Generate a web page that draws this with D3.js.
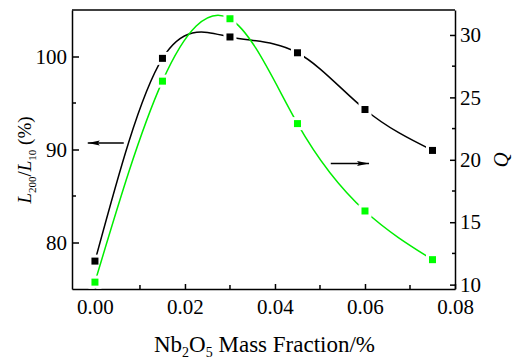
<!DOCTYPE html>
<html>
<head>
<meta charset="utf-8">
<script src="https://cdn.jsdelivr.net/npm/d3@7"></script>
<style>
  body { margin: 0; background: #fff; }
  svg text { font-family: "Liberation Serif", "DejaVu Serif", serif; fill: #000; }
  .axis path, .axis line { stroke: #000; stroke-width: 1.5; }
</style>
</head>
<body>
<svg id="chart" width="520" height="360"></svg>
<script>
// Nb2O5 mass fraction (x) and the two measured series
const massFraction = [0, 0.015, 0.03, 0.045, 0.06, 0.075];
const ratioL = [78.0, 99.8, 102.1, 100.4, 94.3, 89.9];   // L200/L10 (%), left axis
const qValues = [10.2, 26.3, 31.3, 22.9, 15.9, 12.0];    // Q, right axis

const xTicks = [0, 0.02, 0.04, 0.06, 0.08];
const xMinor = [0.01, 0.03, 0.05, 0.07];
const leftTicks = [80, 90, 100];
const leftMinor = [85, 95];
const rightTicks = [10, 15, 20, 25, 30];
const rightMinor = [12.5, 17.5, 22.5, 27.5];

// arrow annotations in data space: [x1, x2, y]
const arrowLeft = [0.0064, -0.0016, 90.7];
const arrowRight = [0.0524, 0.0609, 19.7];

const margin = {top: 10, right: 65, bottom: 71, left: 72};
const width = 520, height = 360;
const serif = '"Liberation Serif", "DejaVu Serif", serif';

const svg = d3.select('#chart');

const x = d3.scaleLinear().domain([-0.0051, 0.08]).range([margin.left, width - margin.right]);
const yL = d3.scaleLinear().domain([75, 105]).range([height - margin.bottom, margin.top]);
const yR = d3.scaleLinear().domain([9.65, 32]).range([height - margin.bottom, margin.top]);

const bottom = height - margin.bottom;
const right = width - margin.right;

// frame (top edge)
svg.append('line')
  .attr('x1', margin.left).attr('x2', right)
  .attr('y1', margin.top).attr('y2', margin.top)
  .attr('stroke', '#000').attr('stroke-width', 1.5);

// axes, ticks pointing inward
const gx = svg.append('g').attr('class', 'axis')
  .attr('transform', 'translate(0,' + bottom + ')')
  .call(d3.axisBottom(x).tickValues(xTicks).tickFormat(d3.format('.2f'))
    .tickSizeInner(-5).tickSizeOuter(0).tickPadding(10));
gx.append('g').selectAll('line').data(xMinor).join('line')
  .attr('x1', d => x(d)).attr('x2', d => x(d)).attr('y1', 0).attr('y2', -4);

const gl = svg.append('g').attr('class', 'axis')
  .attr('transform', 'translate(' + margin.left + ',0)')
  .call(d3.axisLeft(yL).tickValues(leftTicks).tickSizeInner(-7).tickSizeOuter(0).tickPadding(5));
gl.append('g').selectAll('line').data(leftMinor).join('line')
  .attr('y1', d => yL(d)).attr('y2', d => yL(d)).attr('x1', 0).attr('x2', 4);

const gr = svg.append('g').attr('class', 'axis')
  .attr('transform', 'translate(' + right + ',0)')
  .call(d3.axisRight(yR).tickValues(rightTicks).tickSizeInner(-5).tickSizeOuter(0).tickPadding(5));
gr.append('g').selectAll('line').data(rightMinor).join('line')
  .attr('y1', d => yR(d)).attr('y2', d => yR(d)).attr('x1', 0).attr('x2', -3);

svg.selectAll('.axis')
  .attr('font-family', serif)
  .attr('font-size', 21);

// curves
const series = [
  {vals: ratioL, y: yL, color: '#000000', fill: '#000000'},
  {vals: qValues, y: yR, color: '#00ee00', fill: '#00ff00'}
];

series.forEach(s => {
  const pts = massFraction.map((m, i) => [m, s.vals[i]]);
  const line = d3.line().x(d => x(d[0])).y(d => s.y(d[1])).curve(d3.curveNatural);
  svg.append('path').datum(pts)
    .attr('d', line)
    .attr('fill', 'none')
    .attr('stroke', s.color)
    .attr('stroke-width', 1.5);
  // white gap around symbols
  svg.append('g').selectAll('rect').data(pts).join('rect')
    .attr('x', d => x(d[0]) - 6.5).attr('y', d => s.y(d[1]) - 6.5)
    .attr('width', 13).attr('height', 13)
    .attr('fill', '#fff');
  svg.append('g').selectAll('rect').data(pts).join('rect')
    .attr('x', d => x(d[0]) - 3.5).attr('y', d => s.y(d[1]) - 3.5)
    .attr('width', 7).attr('height', 7)
    .attr('fill', s.fill);
});

// arrows
svg.append('defs').append('marker')
  .attr('id', 'head').attr('viewBox', '0 0 12 6')
  .attr('refX', 12).attr('refY', 3)
  .attr('markerWidth', 12).attr('markerHeight', 6)
  .attr('markerUnits', 'userSpaceOnUse')
  .attr('orient', 'auto')
  .append('path').attr('d', 'M0,0.5L12,3L0,5.5L2,3Z').attr('fill', '#000');

svg.append('line')
  .attr('x1', x(arrowLeft[0])).attr('x2', x(arrowLeft[1]))
  .attr('y1', yL(arrowLeft[2])).attr('y2', yL(arrowLeft[2]))
  .attr('stroke', '#000').attr('stroke-width', 1.5).attr('marker-end', 'url(#head)');
svg.append('line')
  .attr('x1', x(arrowRight[0])).attr('x2', x(arrowRight[1]))
  .attr('y1', yR(arrowRight[2])).attr('y2', yR(arrowRight[2]))
  .attr('stroke', '#000').attr('stroke-width', 1.5).attr('marker-end', 'url(#head)');

// axis titles
const xt = svg.append('text')
  .attr('x', (margin.left + right) / 2 + 1).attr('y', 352)
  .attr('text-anchor', 'middle').attr('font-size', 23);
xt.append('tspan').text('Nb');
xt.append('tspan').attr('font-size', 14).attr('dy', 5).text('2');
xt.append('tspan').attr('dy', -5).text('O');
xt.append('tspan').attr('font-size', 14).attr('dy', 5).text('5');
xt.append('tspan').attr('dy', -5).text(' Mass Fraction/%');

const yt = svg.append('text')
  .attr('transform', 'translate(31,160) rotate(-90)')
  .attr('text-anchor', 'middle').attr('font-size', 19);
yt.append('tspan').attr('font-style', 'italic').text('L');
yt.append('tspan').attr('font-size', 11).attr('dy', 5).text('200');
yt.append('tspan').attr('dy', -5).text('/');
yt.append('tspan').attr('font-style', 'italic').text('L');
yt.append('tspan').attr('font-size', 11).attr('dy', 5).text('10');
yt.append('tspan').attr('dy', -5).text(' (%)');

svg.append('text')
  .attr('transform', 'translate(508,160) rotate(-90)')
  .attr('text-anchor', 'middle').attr('font-size', 21)
  .attr('font-style', 'italic').text('Q');
</script>
</body>
</html>
